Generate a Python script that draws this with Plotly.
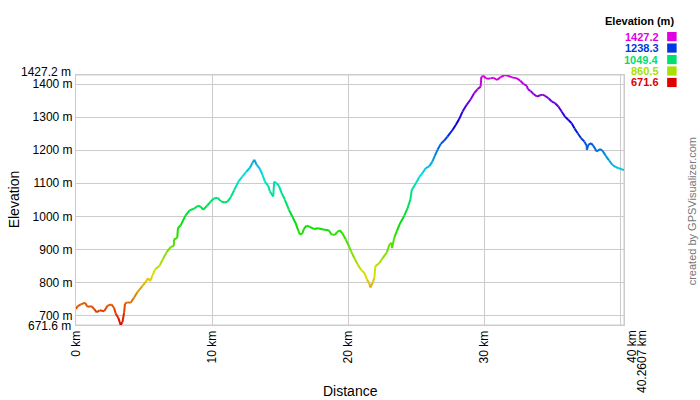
import colorsys
import plotly.graph_objects as go

# ---- data ----
distance_km = [0.00, 0.11, 0.35, 0.67, 0.84, 1.16, 1.33, 1.52, 1.74, 2.07, 2.31, 2.60, 2.80, 2.92, 3.11, 3.28, 3.41, 3.53,
               3.60, 3.77, 4.01, 4.26, 4.51, 4.87, 5.11, 5.29, 5.44, 5.60, 5.80, 6.14, 6.39, 6.65, 6.95, 7.19, 7.20, 7.44,
               7.49, 7.68, 8.04, 8.34, 8.66, 8.97, 9.14, 9.34, 9.63, 9.88, 10.12, 10.39, 10.64, 10.88, 11.12, 11.37,
               11.61, 11.93, 12.22, 12.49, 12.78, 12.98, 13.10, 13.27, 13.47, 13.68, 13.88, 14.12, 14.25, 14.49, 14.56,
               14.74, 14.91, 15.11, 15.35, 15.64, 15.91, 16.13, 16.32, 16.45, 16.62, 16.74, 16.94, 17.18, 17.47, 17.79,
               18.15, 18.57, 18.77, 19.01, 19.18, 19.38, 19.58, 19.82, 20.06, 20.21, 20.45, 20.70, 20.94, 21.19, 21.38,
               21.55, 21.63, 21.79, 21.92, 21.99, 22.29, 22.53, 22.84, 23.02, 23.19, 23.22, 23.38, 23.57, 23.82, 24.12,
               24.36, 24.56, 24.67, 24.97, 25.22, 25.46, 25.70, 25.95, 26.19, 26.36, 26.56, 26.80, 27.05, 27.29, 27.66,
               27.90, 28.15, 28.39, 28.70, 29.00, 29.25, 29.49, 29.73, 29.78, 29.98, 30.10, 30.34, 30.44, 30.68, 30.93,
               31.17, 31.49, 31.74, 32.03, 32.40, 32.64, 32.88, 33.13, 33.20, 33.37, 33.61, 33.86, 34.10, 34.27, 34.47,
               34.71, 34.96, 35.20, 35.44, 35.69, 35.93, 36.18, 36.42, 36.62, 36.86, 37.11, 37.35, 37.52, 37.53, 37.64,
               37.84, 38.01, 38.26, 38.50, 38.67, 38.92, 39.16, 39.40, 39.65, 39.89, 40.2607]
elevation_m = [720, 728, 734, 739, 727, 728, 720, 710, 716, 713, 730, 734, 723, 706, 693, 671.6, 680, 708,
               736, 740, 739, 754, 771, 789, 801, 813, 804, 819, 839, 851, 871, 891, 907, 911, 930, 935,
               965, 972, 1002, 1018, 1023, 1032, 1030, 1020, 1032, 1044, 1054, 1056, 1046, 1042, 1044, 1058,
               1078, 1105, 1120, 1134, 1147, 1163, 1171, 1156, 1146, 1128, 1105, 1092, 1075, 1060, 1105,
               1100, 1092, 1070, 1050, 1020, 998, 980, 958, 945, 948, 962, 972, 968, 962, 964,
               960, 958, 945, 944, 952, 958, 948, 930, 909, 894, 874, 854, 839, 829, 809,
               797, 785, 799, 814, 849, 859, 874, 891, 914, 920, 904, 935, 955, 980, 1002,
               1025, 1050, 1080, 1100, 1119, 1131, 1146, 1151, 1166, 1183, 1201, 1219, 1229, 1241, 1261,
               1276, 1294, 1316, 1337, 1354, 1372, 1384, 1392, 1422, 1424, 1417, 1416, 1417, 1419, 1412,
               1420, 1427.2, 1425, 1420, 1417, 1410, 1400, 1394, 1384, 1380, 1370, 1362, 1366, 1368, 1364,
               1357, 1347, 1342, 1332, 1316, 1301, 1291, 1281, 1266, 1251, 1236, 1226, 1213, 1201, 1216,
               1221, 1213, 1196, 1203, 1199, 1183, 1169, 1156, 1149, 1145, 1140]

y_tick_vals = [671.6, 700, 800, 900, 1000, 1100, 1200, 1300, 1400, 1427.2]
y_tick_text = ["671.6 m", "700 m", "800 m", "900 m", "1000 m", "1100 m", "1200 m", "1300 m", "1400 m", "1427.2 m"]
x_tick_vals = [0, 10, 20, 30, 40, 40.2607]
x_tick_text = ["0 km", "10 km", "20 km", "30 km", "40 km", "40.2607 km"]
legend_vals = [1427.2, 1238.3, 1049.4, 860.5, 671.6]
legend_text = ["1427.2", "1238.3", "1049.4", "860.5", "671.6"]

E_MIN, E_MAX = 671.6, 1427.2
X_MAX = 40.2607


def elev_color(e):
    h = 300.0 * (e - E_MIN) / (E_MAX - E_MIN) / 360.0
    r, g, b = colorsys.hsv_to_rgb(h, 1.0, 0.88)
    return "rgb(%d,%d,%d)" % (round(r * 255), round(g * 255), round(b * 255))


fig = go.Figure()
for i in range(len(distance_km) - 1):
    mid = (elevation_m[i] + elevation_m[i + 1]) / 2.0
    fig.add_trace(go.Scatter(
        x=[distance_km[i], distance_km[i + 1]],
        y=[elevation_m[i], elevation_m[i + 1]],
        mode="lines",
        line=dict(color=elev_color(mid), width=2),
        hoverinfo="skip",
        showlegend=False,
    ))

FONT = "Liberation Sans, Arial, sans-serif"
W, H = 700, 400
SCR_L, SCR_R, SCR_T, SCR_B = 75.5, 624.3, 75, 325.5   # plot box in page pixels
L, T = SCR_L, SCR_T
R, B = W - SCR_R, H - SCR_B
pw, ph = SCR_R - SCR_L, SCR_B - SCR_T


def px_x(px):
    return (px - SCR_L) / pw


def px_y(py):
    return (SCR_B - py) / ph


tickfont = dict(family=FONT, size=12, color="#000")


def ann(text, sx, sy, xa="center", ya="middle", angle=0, size=12, color="#000"):
    return dict(text=text, x=px_x(sx), y=px_y(sy), xref="paper", yref="paper",
                xanchor=xa, yanchor=ya, textangle=angle, showarrow=False,
                font=dict(family=FONT, size=size, color=color))


annotations = [
    ann("Distance", 350, 392, size=14),
    ann("Elevation", 13, 200, angle=-90, size=14),
    ann("created by GPSVisualizer.com", 692, 212, angle=-90, size=11, color="#777"),
    ann("<b>Elevation (m)</b>", 676, 21, xa="right", size=11),
    # the last two x labels are nudged right as in the reference
    dict(text=x_tick_text[-2], x=x_tick_vals[-2], y=0, xref="x", yref="paper",
         xanchor="center", yanchor="top", yshift=-3, xshift=11, textangle=-90,
         showarrow=False, font=tickfont),
    dict(text=x_tick_text[-1], x=x_tick_vals[-1], y=0, xref="x", yref="paper",
         xanchor="center", yanchor="top", yshift=-3, xshift=17.5, textangle=-90,
         showarrow=False, font=tickfont),
    dict(text=y_tick_text[-1], x=0, y=y_tick_vals[-1], xref="paper", yref="y",
         xanchor="right", yanchor="middle", xshift=-3, yshift=3,
         showarrow=False, font=tickfont),
    dict(text=y_tick_text[0], x=0, y=y_tick_vals[0], xref="paper", yref="y",
         xanchor="right", yanchor="middle", xshift=-3, yshift=-1,
         showarrow=False, font=tickfont),
]
shapes = []
row_y = [36.5, 48, 59.5, 71, 82.5]
for v, t, ry in zip(legend_vals, legend_text, row_y):
    c = elev_color(v)
    annotations.append(ann("<b>%s</b>" % t, 661, ry, xa="right", size=11, color=c))
    shapes.append(dict(type="rect", xref="paper", yref="paper",
                       x0=px_x(667.5), x1=px_x(677), y0=px_y(ry + 4.6), y1=px_y(ry - 4.6),
                       fillcolor=c, line=dict(width=0)))

# extra gridline at the last x tick (label drawn as annotation)
shapes.append(dict(type="line", xref="x", yref="paper", x0=x_tick_vals[-1], x1=x_tick_vals[-1],
                   y0=0, y1=1, line=dict(color="#cccccc", width=1), layer="below"))
# extra gridlines for the y end ticks
for yv in (y_tick_vals[0], y_tick_vals[-1]):
    shapes.append(dict(type="line", xref="paper", yref="y", x0=0, x1=1, y0=yv, y1=yv,
                       line=dict(color="#cccccc", width=1), layer="below"))

fig.update_layout(
    width=W, height=H, autosize=False,
    margin=dict(l=L, r=R, t=T, b=B, pad=0),
    paper_bgcolor="white", plot_bgcolor="white",
    font=dict(family=FONT, size=12, color="#000"),
    annotations=annotations, shapes=shapes,
    showlegend=False,
)
fig.update_xaxes(range=[0, X_MAX], tickvals=x_tick_vals[:-1],
                 ticktext=x_tick_text[:-2] + [""], tickangle=-90,
                 showgrid=True, gridcolor="#cccccc", gridwidth=1, zeroline=False, automargin=False,
                 showline=True, linecolor="#cccccc", mirror=True, ticks="",
                 tickfont=tickfont)
fig.update_yaxes(range=[E_MIN, E_MAX], tickvals=y_tick_vals[1:-1], ticktext=y_tick_text[1:-1],
                 showgrid=True, gridcolor="#cccccc", gridwidth=1, zeroline=False, automargin=False,
                 showline=True, linecolor="#cccccc", mirror=True, ticks="",
                 tickfont=tickfont)

fig.write_html("out.html",
               config={"displayModeBar": False},
               post_script="document.body.style.margin='0';document.body.style.overflow='hidden';")
